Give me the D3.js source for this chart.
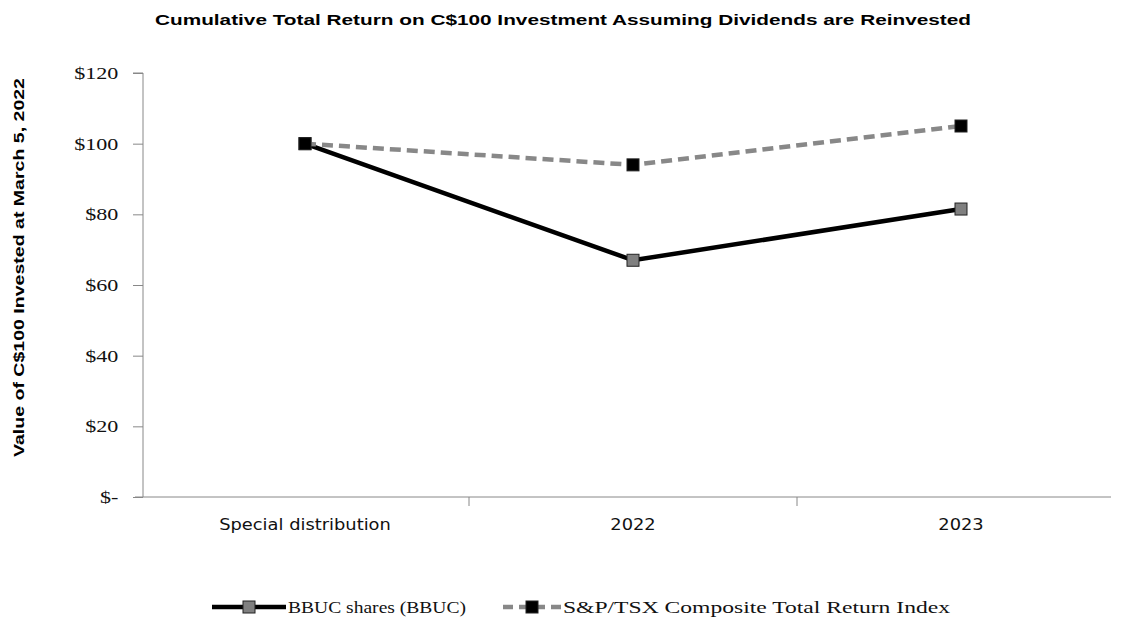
<!DOCTYPE html>
<html>
<head>
<meta charset="utf-8">
<script src="https://cdn.jsdelivr.net/npm/d3@7"></script>
<style>
  body { margin: 0; background: #fff; }
</style>
</head>
<body>
<svg id="chart" width="1122" height="621"></svg>
<script>
// chart data
const categories = ["Special distribution", "2022", "2023"];
const bbuc = [100, 67, 81.5];
const tsx = [100, 94, 105];
const yTicks = [0, 20, 40, 60, 80, 100, 120];

const svg = d3.select("#chart");
const margin = { left: 143, right: 12, top: 73, bottom: 124 };
const height = 621 - margin.top - margin.bottom;

const x = d3.scaleBand().domain(categories).range([margin.left - 2, margin.left - 2 + 984]);
const y = d3.scaleLinear().domain([0, 120]).range([margin.top + height, margin.top]);
const cx = (i) => x(categories[i]) + x.bandwidth() / 2;

// text in the source image is stretched sideways
const stretch = (sel, k) => sel.attr("transform", `scale(${k},1)`);

// title
svg.append("text")
  .attr("x", 155).attr("y", 25)
  .attr("textLength", 816).attr("lengthAdjust", "spacingAndGlyphs")
  .style("font-family", "Liberation Sans, Arial, sans-serif")
  .style("font-weight", "bold").style("font-size", "15px")
  .text("Cumulative Total Return on C$100 Investment Assuming Dividends are Reinvested");

// y title
svg.append("text")
  .attr("transform", "translate(24,457) rotate(-90)")
  .attr("textLength", 379).attr("lengthAdjust", "spacingAndGlyphs")
  .style("font-family", "Liberation Sans, Arial, sans-serif")
  .style("font-weight", "bold").style("font-size", "15px")
  .text("Value of C$100 Invested at March 5, 2022");

// y axis
const yAxis = svg.append("g")
  .attr("transform", `translate(${margin.left},0)`)
  .call(d3.axisLeft(y).tickValues(yTicks).tickSize(10).tickPadding(9)
    .tickFormat((d) => (d === 0 ? "$-" : `$${d}`)));
yAxis.selectAll("path, line").attr("stroke", "#888");
yAxis.select(".domain").attr("d", `M-10,${y(120)}H0V${y(0)}`);
yAxis.selectAll("text")
  .style("font-family", "Liberation Serif, Times New Roman, serif")
  .style("font-size", "17px").attr("fill", "#111")
  .call(stretch, 1.3);

// x axis
const xAxis = svg.append("g")
  .attr("transform", `translate(0,${y(0)})`)
  .call(d3.axisBottom(x).tickSize(0).tickPadding(22));
xAxis.select(".domain").attr("stroke", "#888")
  .attr("d", `M${margin.left - 8},0H${margin.left - 2 + 970}`);
xAxis.selectAll("text")
  .style("font-family", "DejaVu Sans Condensed, Open Sans, sans-serif")
  .style("font-stretch", "condensed")
  .style("font-size", "15.5px").attr("fill", "#111")
  .call(stretch, 1.28);
xAxis.selectAll(".xsep")
  .data(categories.slice(1))
  .enter().append("line")
  .attr("x1", (d) => x(d)).attr("x2", (d) => x(d))
  .attr("y1", 0).attr("y2", 9).attr("stroke", "#888");

const line = d3.line().x((d, i) => cx(i)).y((d) => y(d));

const drawSeries = (vals, stroke, dash, fill) => {
  svg.append("path")
    .datum(vals)
    .attr("d", line)
    .attr("fill", "none")
    .attr("stroke", stroke)
    .attr("stroke-width", 4.5)
    .attr("stroke-dasharray", dash);
  svg.selectAll(null)
    .data(vals)
    .enter().append("rect")
    .attr("x", (d, i) => cx(i) - 6)
    .attr("y", (d) => y(d) - 6)
    .attr("width", 12).attr("height", 12)
    .attr("fill", fill).attr("stroke", "#222").attr("stroke-width", 1);
};

drawSeries(bbuc, "#000", null, "#808080");
drawSeries(tsx, "#888", "11,6", "#000");

// legend
const leg = svg.append("g").attr("transform", "translate(0,607)");
const legItems = [
  { x0: 212, x1: 286, stroke: "#000", dash: null, fill: "#808080", text: "BBUC shares (BBUC)", len: 178 },
  { x0: 503, x1: 561, stroke: "#888", dash: "10,6", fill: "#000", text: "S&P/TSX Composite Total Return Index", len: 387 },
];
legItems.forEach((it) => {
  leg.append("line")
    .attr("x1", it.x0).attr("x2", it.x1).attr("y1", 0).attr("y2", 0)
    .attr("stroke", it.stroke).attr("stroke-width", 4.5)
    .attr("stroke-dasharray", it.dash);
  leg.append("rect")
    .attr("x", (it.x0 + it.x1) / 2 - 6).attr("y", -6)
    .attr("width", 12).attr("height", 12)
    .attr("fill", it.fill).attr("stroke", "#222");
  leg.append("text")
    .attr("x", it.x1 + 2).attr("y", 6)
    .attr("textLength", it.len).attr("lengthAdjust", "spacingAndGlyphs")
    .style("font-family", "Liberation Serif, Times New Roman, serif")
    .style("font-size", "17.5px").attr("fill", "#111")
    .text(it.text);
});
</script>
</body>
</html>
